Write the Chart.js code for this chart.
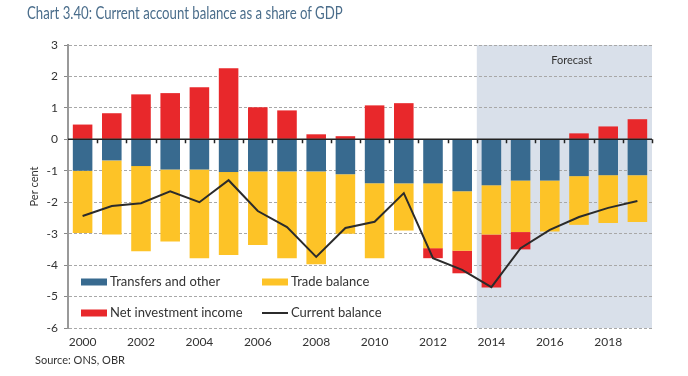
<!DOCTYPE html>
<html>
<head>
<meta charset="utf-8">
<script src="https://cdn.jsdelivr.net/npm/chart.js@4"></script>
<style>
  body { margin: 0; background: #fff; }
  #wrap { position: relative; width: 688px; height: 376px; }
  #title { position: absolute; left: 27px; top: 3px; font: 16.5px Lato, sans-serif; color: #4a6d8b; white-space: nowrap; transform-origin: left top; }
  #source { position: absolute; left: 35px; top: 353px; font: 11px Lato, sans-serif; color: #333; }
  canvas { position: absolute; left: 0; top: 0; }
</style>
</head>
<body>
<div id="wrap">
  <canvas id="myChart" width="688" height="376"></canvas>
  <div id="title">Chart 3.40: Current account balance as a share of GDP</div>
  <div id="source">Source: ONS, OBR</div>
</div>
<script>
const years = ["2000","2001","2002","2003","2004","2005","2006","2007","2008","2009",
  "2010","2011","2012","2013","2014","2015","2016","2017","2018","2019"];
const transfers = [-1.0,-0.67,-0.85,-0.96,-0.96,-1.04,-1.02,-1.02,-1.02,-1.11,
  -1.40,-1.40,-1.40,-1.65,-1.46,-1.31,-1.31,-1.17,-1.14,-1.14];
const trade = [-1.98,-2.36,-2.71,-2.29,-2.82,-2.64,-2.34,-2.76,-2.95,-1.89,
  -2.38,-1.50,-2.06,-1.89,-1.57,-1.64,-1.62,-1.55,-1.52,-1.49];
const netInvestment = [0.47,0.83,1.43,1.47,1.66,2.26,1.02,0.92,0.16,0.10,
  1.08,1.15,-0.32,-0.72,-1.68,-0.55,0,0.19,0.41,0.64];
const currentBalance = [-2.44,-2.12,-2.03,-1.65,-2.0,-1.3,-2.28,-2.79,-3.74,-2.82,
  -2.62,-1.71,-3.78,-4.15,-4.70,-3.46,-2.88,-2.47,-2.18,-1.96];
const forecastStart = "2014";

const FONT = "Lato, sans-serif";
const colors = { transfers: "#386a8f", trade: "#fdc327", nii: "#e8282b", line: "#2b2b2b" };

// title width fit, once the font is there
const t = document.getElementById("title");
document.fonts.ready.then(() => {
  t.style.transform = "scaleX(" + (316 / t.offsetWidth) + ")";
});

const forecastPlugin = {
  id: "forecast",
  beforeDraw(chart) {
    const { ctx, chartArea, scales } = chart;
    const x0 = scales.x.getPixelForValue(years.indexOf(forecastStart)) - scales.x.width / years.length / 2;
    ctx.save();
    ctx.fillStyle = "#d9e0ea";
    ctx.fillRect(x0, chartArea.top, chartArea.right - x0, chartArea.bottom - chartArea.top);
    ctx.fillStyle = "#333";
    ctx.font = "11px " + FONT;
    ctx.textAlign = "center";
    ctx.textBaseline = "middle";
    ctx.fillText("Forecast", scales.x.getPixelForValue(16.75), scales.y.getPixelForValue(2.5));
    ctx.restore();
  },
  afterDatasetsDraw(chart) {
    const { ctx, chartArea, scales } = chart;
    const y0 = scales.y.getPixelForValue(0);
    const step = scales.x.width / years.length;
    ctx.save();
    ctx.strokeStyle = "#222";
    ctx.lineWidth = 1.5;
    ctx.beginPath();
    ctx.moveTo(chartArea.left, y0);
    ctx.lineTo(chartArea.right, y0);
    for (let i = 1; i <= years.length; i++) {
      const x = Math.round(chartArea.left + i * step) + 0.5;
      ctx.moveTo(x, y0);
      ctx.lineTo(x, y0 + 4);
    }
    ctx.stroke();
    ctx.restore();
  }
};

const legendPlugin = {
  id: "innerLegend",
  afterDraw(chart) {
    const { ctx } = chart;
    const items = [
      { label: "Transfers and other", color: colors.transfers, x: 81, y: 282 },
      { label: "Trade balance", color: colors.trade, x: 262, y: 282 },
      { label: "Net investment income", color: colors.nii, x: 81, y: 313 },
      { label: "Current balance", color: colors.line, x: 262, y: 313, line: true }
    ];
    ctx.save();
    ctx.font = "13px " + FONT;
    ctx.textBaseline = "middle";
    for (let it of items) {
      ctx.fillStyle = it.color;
      if (it.line) ctx.fillRect(it.x, it.y - 1, 26, 2);
      else ctx.fillRect(it.x, it.y - 3.5, 26, 7);
      ctx.fillStyle = "#333";
      ctx.fillText(it.label, it.x + 29, it.y);
    }
    ctx.restore();
  }
};

const ctx = document.getElementById("myChart").getContext("2d");
const myChart = new Chart(ctx, {
  type: "bar",
  data: {
    labels: years,
    datasets: [
      { label: "Current balance", type: "line", data: currentBalance, stack: "cb",
        borderColor: colors.line, borderWidth: 2, pointRadius: 0, tension: 0, order: 0 },
      { label: "Transfers and other", data: transfers, backgroundColor: colors.transfers, stack: "s", order: 1 },
      { label: "Trade balance", data: trade, backgroundColor: colors.trade, stack: "s", order: 1 },
      { label: "Net investment income", data: netInvestment, backgroundColor: colors.nii, stack: "s", order: 1 }
    ]
  },
  options: {
    responsive: false,
    animation: false,
    layout: { padding: { top: 45, right: 36, left: 0, bottom: 0 } },
    datasets: { bar: { barPercentage: 0.67, categoryPercentage: 1 } },
    plugins: { legend: { display: false }, tooltip: { enabled: false } },
    scales: {
      x: {
        stacked: true,
        grid: { display: false, drawTicks: false },
        border: { display: false },
        ticks: {
          autoSkip: false, maxRotation: 0, padding: 7,
          color: "#333", font: { family: FONT, size: 12 },
          callback: function (v, i) { return i % 2 === 0 ? years[i] : ""; }
        },
        afterFit(scale) { scale.height = 48; }
      },
      y: {
        stacked: true,
        min: -6, max: 3,
        ticks: { stepSize: 1, padding: 6, color: "#333", font: { family: FONT, size: 12 } },
        grid: { color: "#a8a8a8", lineWidth: 1, tickLength: 4, tickColor: "#888", tickBorderDash: [] },
        border: { display: true, color: "#999", width: 2, dash: [3, 2] },
        title: { display: true, text: "Per cent", color: "#333", font: { family: FONT, size: 11 }, padding: { top: 28 } },
        afterFit(scale) { scale.width = 68; }
      }
    }
  },
  plugins: [forecastPlugin, legendPlugin]
});
</script>
</body>
</html>
